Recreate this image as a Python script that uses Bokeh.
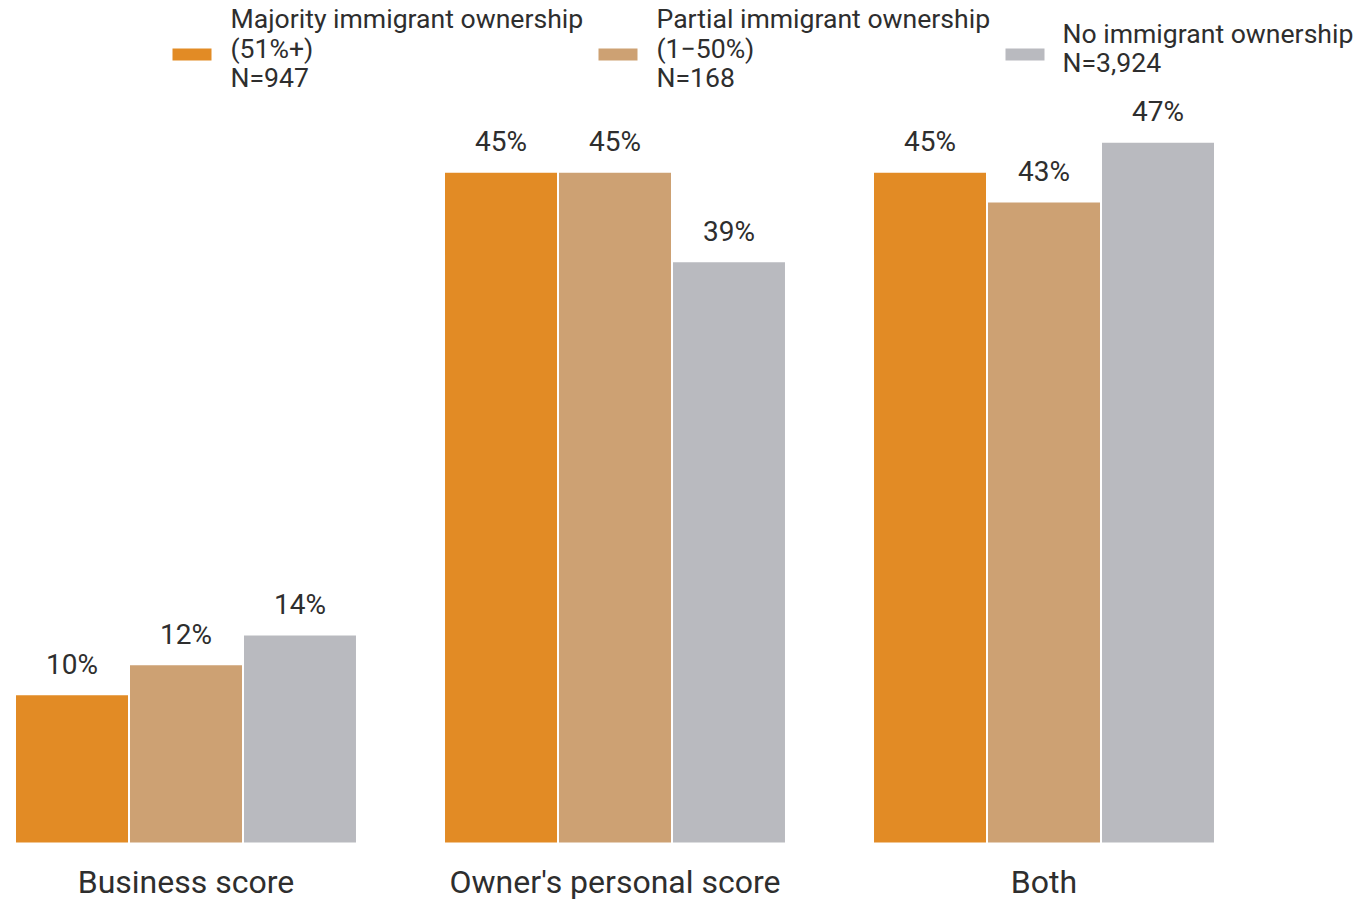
from bokeh.plotting import figure
from bokeh.models import Range1d, ColumnDataSource
from bokeh.core.properties import value
from bokeh.embed import file_html
from bokeh.resources import INLINE

categories = ["Business score", "Owner's personal score", "Both"]
series_names = ["Majority immigrant ownership\n(51%+)", "Partial immigrant ownership\n(1\u221250%)", "No immigrant ownership"]
series_n = ["N=947", "N=168", "N=3,924"]
majority = [10, 45, 45]
partial = [12, 45, 43]
none_ = [14, 39, 47]
series_values = [majority, partial, none_]
colors = ["#E28B25", "#CDA173", "#B9BABF"]

FONT = "Roboto"
TXT = "#2E2E2E"

W, H = 1360, 899
PX_PER_CAT = 429.0
PX_PER_PCT = 14.93
BASE_Y = 843.0          # page y of the bar baseline
x0 = -185.5 / PX_PER_CAT
x1 = x0 + W / PX_PER_CAT
y1 = BASE_Y / PX_PER_PCT
y0 = -(H - BASE_Y) / PX_PER_PCT

p = figure(width=W, height=H, output_backend="svg", toolbar_location=None,
           x_range=Range1d(x0, x1), y_range=Range1d(y0, y1),
           min_border_left=0, min_border_right=0, min_border_top=0, min_border_bottom=0)
p.outline_line_color = None
p.xgrid.visible = False
p.ygrid.visible = False
p.xaxis.visible = False
p.yaxis.visible = False
p.background_fill_color = "white"
p.border_fill_color = "white"

offsets = [-0.2657, 0.0, 0.2657]
bw = 0.2657
for s, (vals, col, off) in enumerate(zip(series_values, colors, offsets)):
    xs = [i + off for i in range(len(categories))]
    src = ColumnDataSource(dict(x=xs, top=vals, lab=[f"{v}%" for v in vals]))
    p.vbar(x="x", top="top", bottom=0, width=bw, source=src,
           fill_color=col, line_color="white", line_width=2)
    p.text(x="x", y="top", text="lab", source=src, text_align="center",
           text_baseline="alphabetic", y_offset=-30, text_font=value(FONT),
           text_font_size="28px", text_color=TXT)

# category labels below the bars
cat_src = ColumnDataSource(dict(x=list(range(len(categories))), y=[0] * len(categories), t=categories))
p.text(x="x", y="y", text="t", source=cat_src, text_align="center",
       text_baseline="alphabetic", y_offset=38, text_font=value(FONT),
       text_font_size="32px", text_color=TXT)

# legend (manual)
def dx(px):
    return x0 + px / PX_PER_CAT

def dy(py):
    return (BASE_Y - py) / PX_PER_PCT

sw_left = [172, 598, 1005]
tx_left = [230, 656, 1062]
for s in range(3):
    lines = series_names[s].split("\n") + [series_n[s]]
    n = len(lines)
    p.rect(x=[dx(sw_left[s] + 19.5)], y=[dy(54)], width=39, height=12,
           width_units="screen", height_units="screen",
           fill_color=colors[s], line_color=None)
    for i, ln in enumerate(lines):
        base = 47.5 + 29.6 * (i - (n - 1) / 2)
        p.text(x=[dx(tx_left[s])], y=[dy(base)], text=[ln], text_align="left",
               text_baseline="alphabetic", text_font=value(FONT),
               text_font_size="26.6px", text_color=TXT)

open("out.html", "w").write(file_html(p, INLINE))
